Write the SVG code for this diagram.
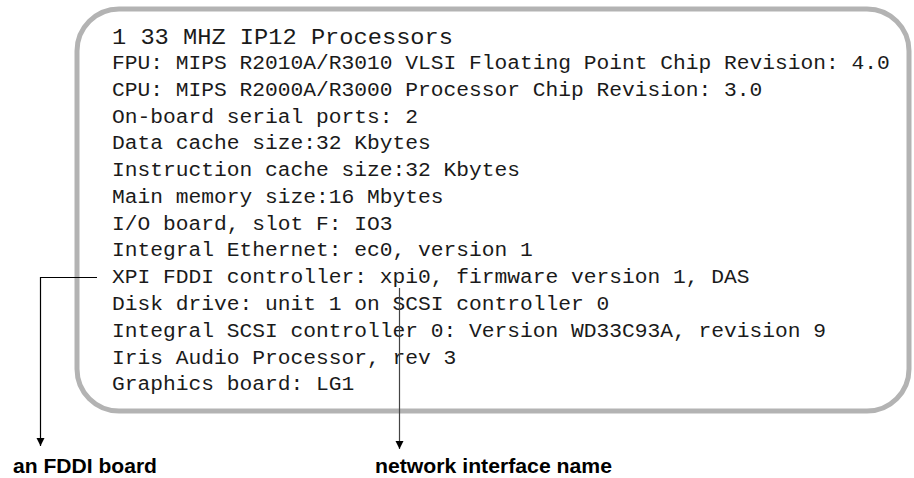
<svg xmlns="http://www.w3.org/2000/svg" width="914" height="478" viewBox="0 0 914 478">
<style>
.mono{font-family:"Liberation Mono","Courier New",monospace;font-size:19.5px;fill:#1a1a1a}
.big{font-size:22px}
.lbl{font-family:"Liberation Sans",Arial,sans-serif;font-weight:bold;font-size:19.5px;fill:#000}
.conn{fill:none;stroke-width:1.2}
</style>
<defs>
<marker id="arr" viewBox="0 0 10 10" refX="10" refY="5" markerWidth="8" markerHeight="13" markerUnits="userSpaceOnUse" orient="auto">
<path d="M0,0 L10,5 L0,10 Z" fill="#000"/>
</marker>
</defs>
<g id="console">
<rect x="77" y="9" width="832" height="402" rx="42" ry="42" fill="#fff" stroke="#b3b3b3" stroke-width="5"/>
<text class="mono big" x="112" y="43.5" textLength="341" lengthAdjust="spacingAndGlyphs">1 33 MHZ IP12 Processors</text>
<text class="mono" x="112" y="69" textLength="777.75" lengthAdjust="spacingAndGlyphs">FPU: MIPS R2010A/R3010 VLSI Floating Point Chip Revision: 4.0</text>
<text class="mono" x="112" y="95.8" textLength="650.25" lengthAdjust="spacingAndGlyphs">CPU: MIPS R2000A/R3000 Processor Chip Revision: 3.0</text>
<text class="mono" x="112" y="122.5" textLength="306" lengthAdjust="spacingAndGlyphs">On-board serial ports: 2</text>
<text class="mono" x="112" y="149.3" textLength="318.75" lengthAdjust="spacingAndGlyphs">Data cache size:32 Kbytes</text>
<text class="mono" x="112" y="176.1" textLength="408" lengthAdjust="spacingAndGlyphs">Instruction cache size:32 Kbytes</text>
<text class="mono" x="112" y="202.9" textLength="331.5" lengthAdjust="spacingAndGlyphs">Main memory size:16 Mbytes</text>
<text class="mono" x="112" y="229.6" textLength="280.5" lengthAdjust="spacingAndGlyphs">I/O board, slot F: IO3</text>
<text class="mono" x="112" y="256.4" textLength="420.75" lengthAdjust="spacingAndGlyphs">Integral Ethernet: ec0, version 1</text>
<text class="mono" x="112" y="283.2" textLength="637.5" lengthAdjust="spacingAndGlyphs">XPI FDDI controller: xpi0, firmware version 1, DAS</text>
<text class="mono" x="112" y="309.9" textLength="497.25" lengthAdjust="spacingAndGlyphs">Disk drive: unit 1 on SCSI controller 0</text>
<text class="mono" x="112" y="336.7" textLength="714" lengthAdjust="spacingAndGlyphs">Integral SCSI controller 0: Version WD33C93A, revision 9</text>
<text class="mono" x="112" y="363.5" textLength="344.25" lengthAdjust="spacingAndGlyphs">Iris Audio Processor, rev 3</text>
<text class="mono" x="112" y="390.2" textLength="242.25" lengthAdjust="spacingAndGlyphs">Graphics board: LG1</text>
</g>
<g id="connectors">
<path class="conn" d="M97,277.5 H40.5 V446" stroke="#000" marker-end="url(#arr)"/>
<path class="conn" d="M399.5,288 V449" stroke="#444" marker-end="url(#arr)"/>
</g>
<g id="label-fddi">
<text class="lbl" x="13" y="473" textLength="144" lengthAdjust="spacingAndGlyphs">an FDDI board</text>
</g>
<g id="label-netif">
<text class="lbl" x="375" y="473" textLength="237" lengthAdjust="spacingAndGlyphs">network interface name</text>
</g>
</svg>
